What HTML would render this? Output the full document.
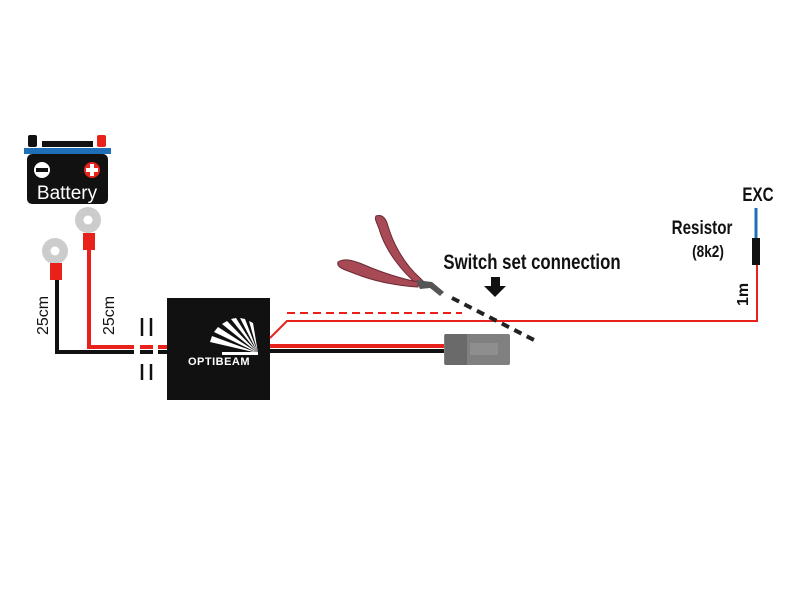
<!DOCTYPE html>
<html><head><style>body{margin:0;background:#fff}svg{display:block}</style></head><body>
<svg width="800" height="600" xmlns="http://www.w3.org/2000/svg" font-family="Liberation Sans, sans-serif">
<rect width="800" height="600" fill="#fff"/>
<!-- battery -->
<rect x="28" y="135" width="9" height="12" rx="2" fill="#111"/>
<rect x="97" y="135" width="9" height="12" rx="2" fill="#e8221b"/>
<rect x="42" y="141" width="51" height="6" fill="#111"/>
<rect x="24" y="148" width="87" height="6" fill="#1e6fb8"/>
<rect x="27" y="154" width="81" height="50" rx="5" fill="#111"/>
<circle cx="42" cy="170" r="8" fill="#fff"/><rect x="36" y="168" width="12" height="4" fill="#111"/>
<circle cx="92" cy="170" r="8" fill="#e8221b"/><rect x="86" y="168" width="12" height="4" fill="#fff"/><rect x="90" y="164" width="4" height="12" fill="#fff"/>
<text x="67" y="199" font-size="19" fill="#fff" text-anchor="middle">Battery</text>
<!-- terminals -->
<circle cx="55" cy="251" r="13" fill="#ccc"/><circle cx="55" cy="251" r="4.5" fill="#fff"/>
<rect x="50" y="263" width="12" height="17" fill="#e8221b"/>
<circle cx="88" cy="220" r="13" fill="#ccc"/><circle cx="88" cy="220" r="4.5" fill="#fff"/>
<rect x="83" y="233" width="12" height="17" fill="#e8221b"/>
<polyline points="89,250 89,347 167,347" fill="none" stroke="#e8221b" stroke-width="4"/>
<polyline points="57,280 57,352 167,352" fill="none" stroke="#111" stroke-width="4"/>
<rect x="134" y="340" width="24" height="16" fill="#fff"/>
<g stroke="#111" stroke-width="2.5"><line x1="142" y1="318" x2="142" y2="336"/><line x1="151" y1="318" x2="151" y2="336"/><line x1="142" y1="364" x2="142" y2="380"/><line x1="151" y1="364" x2="151" y2="380"/></g>
<line x1="140" y1="347" x2="153" y2="347" stroke="#e8221b" stroke-width="4"/>
<line x1="140" y1="352" x2="153" y2="352" stroke="#111" stroke-width="4"/>
<text transform="translate(48,335) rotate(-90)" font-size="16" fill="#111">25cm</text>
<text transform="translate(114,335) rotate(-90)" font-size="16" fill="#111">25cm</text>
<!-- box -->
<rect x="167" y="298" width="103" height="102" fill="#111"/>
<g fill="#fff">
<polygon points="258,353 210,342 212,336"/>
<polygon points="258,353 214,332 218,327"/>
<polygon points="258,353 222,324 227,321"/>
<polygon points="258,353 231,319 236,318"/>
<polygon points="258,353 240,318 245,319"/>
<polygon points="258,353 249,321 253,323"/>
<polygon points="222,352 258,352 258,355 222,355"/>
</g>
<text x="219" y="365" font-size="11" font-weight="bold" fill="#fff" text-anchor="middle" letter-spacing="0.5">OPTIBEAM</text>
<!-- wires right -->
<line x1="270" y1="346" x2="445" y2="346" stroke="#e8221b" stroke-width="4"/>
<line x1="270" y1="351" x2="445" y2="351" stroke="#111" stroke-width="4"/>
<polyline points="270,338 287,321 757,321 757,262" fill="none" stroke="#e8221b" stroke-width="2"/>
<line x1="287" y1="313" x2="462" y2="313" stroke="#e8221b" stroke-width="2" stroke-dasharray="8,5"/>
<rect x="444" y="334" width="66" height="31" rx="2" fill="#808080"/>
<rect x="445" y="334" width="22" height="31" fill="#6a6a6a"/>
<rect x="470" y="343" width="28" height="12" fill="#8e8e8e"/>
<line x1="452" y1="298" x2="534" y2="340" stroke="#222" stroke-width="4" stroke-dasharray="8,6"/>
<!-- resistor -->
<line x1="756" y1="208" x2="756" y2="238" stroke="#1e6fb8" stroke-width="3"/>
<rect x="752" y="238" width="8" height="27" fill="#111"/>
<g font-weight="bold" fill="#111" text-anchor="middle">
<text transform="translate(758,201) scale(0.8,1)" font-size="19">EXC</text>
<text transform="translate(702,234) scale(0.8,1)" font-size="19">Resistor</text>
<text transform="translate(708,257) scale(0.8,1)" font-size="17">(8k2)</text>
<text transform="translate(532,269) scale(0.8,1)" font-size="21">Switch set connection</text>
</g>
<text transform="translate(748,306) rotate(-90)" font-size="16" font-weight="bold" fill="#111">1m</text>
<polygon points="491,277 500,277 500,286 506,286 495,297 484,286 491,286" fill="#111"/>
<!-- pliers -->
<g fill="#a84a55" stroke="#6a2a33" stroke-width="1">
<path d="M376,216 C382,214 386,218 388,226 C392,240 402,262 420,278 L424,282 L418,285 C400,270 386,250 380,232 C378,224 374,220 376,216 Z"/>
<path d="M338,262 C344,258 352,260 362,264 C380,272 402,279 418,282 L418,287 C400,286 376,282 356,274 C346,270 336,268 338,262 Z"/>
</g>
<path d="M416,280 L432,282 L444,292 L440,296 L430,288 L420,289 Z" fill="#555"/>
</svg>
</body></html>
